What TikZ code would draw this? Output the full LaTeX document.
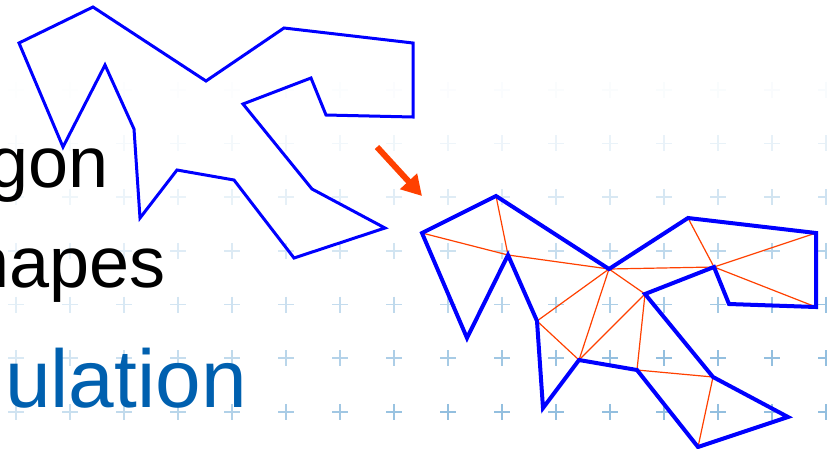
\documentclass[tikz,border=0pt]{standalone}
\usepackage{fontspec}
\setmainfont{Liberation Sans}
\usepackage{tikz}
\usetikzlibrary{arrows.meta}
\definecolor{outlineblue}{RGB}{0,0,255}
\definecolor{cutred}{RGB}{255,64,0}
\definecolor{titleblue}{RGB}{0,96,175}
\definecolor{gridblue}{RGB}{120,175,215}

\begin{document}
\begin{tikzpicture}[x=1pt, y=-1pt,
  outline/.style={draw=outlineblue, line width=3pt, line join=miter},
  diag/.style={draw=cutred, line width=1.2pt},
  word/.style={anchor=base west, inner sep=0pt, font=\fontsize{72}{80}\selectfont},
  arr/.style={-{Triangle[length=20pt,width=22pt]}, draw=cutred, line width=6pt},
]
\useasboundingbox (0,0) rectangle (827,448);
% faded plus grid
\foreach \i in {0,...,15}{
  \foreach \j in {0,...,7}{
    \pgfmathsetmacro{\px}{16+54*\i}
    \pgfmathsetmacro{\py}{36+53.7*\j}
    \pgfmathsetmacro{\gridop}{min(0.8,pow(max(0.001,(\py-60)/330),1.3)*(0.3+\px/1000))}
    \draw[gridblue, line width=1.8pt, opacity=\gridop] (\px-8,\py) -- (\px+8,\py) (\px,\py-8) -- (\px,\py+8);
  }
}
% text
\node[word] (gon) at (-12,187) {gon};
\node[word] (hapes) at (-31,287) {hapes};
\node[word, text=titleblue, font=\fontsize{82}{90}\selectfont] (ulation) at (5,407) {ulation};
% input polygon
\draw[outline] (19,43) -- (93,7) -- (206,81) -- (284,28) -- (413,43) -- (413,117)
  -- (326,115) -- (311,78) -- (243,104) -- (312,189) -- (385,228) -- (294,258)
  -- (234,180) -- (177,170) -- (140,218) -- (134,129) -- (105,65) -- (63,147) -- cycle;
% arrow
\coordinate (arrtail) at (377,147);
\coordinate (arrtip) at (422,196);
\draw[arr] (arrtail) -- (arrtip);
% triangulated polygon
\coordinate (t1) at (422,233);
\coordinate (t2) at (496,196);
\coordinate (t3) at (609,269);
\coordinate (t4) at (688,218);
\coordinate (t5) at (816,233);
\coordinate (t6) at (816,307);
\coordinate (t7) at (729,304);
\coordinate (t8) at (714,267);
\coordinate (t9) at (645,294);
\coordinate (t10) at (713,377);
\coordinate (t11) at (788,417);
\coordinate (t12) at (698,447);
\coordinate (t13) at (637,370);
\coordinate (t14) at (579,360);
\coordinate (t15) at (543,408);
\coordinate (t16) at (537,321);
\coordinate (t17) at (508,255);
\coordinate (t18) at (467,338);
\foreach \a/\b in {t1/t17, t2/t17, t17/t3, t3/t8, t4/t8, t8/t5, t8/t6, t3/t9,
                   t3/t16, t3/t14, t16/t14, t14/t9, t9/t13, t13/t10, t10/t12}
  \draw[diag] (\a) -- (\b);
\draw[outline, line width=4pt] (t1) -- (t2) -- (t3) -- (t4) -- (t5) -- (t6) -- (t7) -- (t8) -- (t9)
  -- (t10) -- (t11) -- (t12) -- (t13) -- (t14) -- (t15) -- (t16) -- (t17) -- (t18) -- cycle;
\end{tikzpicture}
\end{document}
